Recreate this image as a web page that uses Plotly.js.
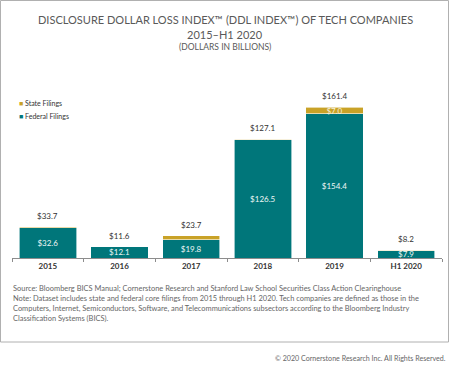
<!DOCTYPE html>
<html><head><meta charset="utf-8">
<script src="https://cdn.plot.ly/plotly-3.0.1.min.js"></script>
<style>html,body{margin:0;padding:0;background:#fff}#c{width:450px;height:374px}</style>
</head><body><div id="c"></div>
<script>
const categories = ['2015','2016','2017','2018','2019','H1 2020'];
const federalValues = [32.6, 12.1, 19.8, 126.5, 154.4, 7.9];
const stateValues = [1.1, 0, 3.9, 0.6, 7.0, 0.3];
const totalValues = [33.7, 11.6, 23.7, 127.1, 161.4, 8.2];
const seriesNames = ['State Filings', 'Federal Filings'];

const W = 450, H = 374;
const M = {l: 12, r: 8, t: 90, b: 116};
const PW = W - M.l - M.r, PH = H - M.t - M.b;
const px = x => (x - M.l) / PW;
const py = y => (H - M.b - y) / PH;

const TEAL = '#00767A', GOLD = '#C9A227';
const FONT = 'Lato, "Open Sans", sans-serif';
const fmt = v => '$' + v.toFixed(1);

const traces = [
  {type: 'bar', x: categories, y: federalValues, name: seriesNames[1], showlegend: false,
   marker: {color: TEAL, line: {color: '#ffffff', width: 0.6}},
   text: federalValues.map(fmt), textposition: 'inside', insidetextanchor: 'middle',
   constraintext: 'none', textfont: {family: FONT, size: 8, color: '#eef6f6'}, hoverinfo: 'skip'},
  {type: 'bar', x: categories, y: stateValues, name: seriesNames[0], showlegend: false,
   marker: {color: GOLD, line: {color: '#ffffff', width: 0.6}},
   text: stateValues.map(v => v >= 5 ? fmt(v) : ''), textposition: 'inside', insidetextanchor: 'middle',
   constraintext: 'none', textfont: {family: FONT, size: 8, color: '#f6f0dc'}, hoverinfo: 'skip'}
];

// category axis: annotation x given as the category index
const annotations = categories.map((c, i) => ({
  x: i, y: totalValues[i], xref: 'x', yref: 'y', text: fmt(totalValues[i]),
  showarrow: false, yanchor: 'bottom', yshift: 4,
  font: {family: FONT, size: 8, color: '#333333'}
}));

const grayText = '#595959';
annotations.push(
  {xref: 'paper', yref: 'paper', x: px(225), y: py(20), text: 'DISCLOSURE DOLLAR LOSS INDEX™ (DDL INDEX™) OF TECH COMPANIES',
   showarrow: false, xanchor: 'center', yanchor: 'middle', font: {family: FONT, size: 11, color: grayText}},
  {xref: 'paper', yref: 'paper', x: px(225), y: py(34), text: '2015–H1 2020',
   showarrow: false, xanchor: 'center', yanchor: 'middle', font: {family: FONT, size: 11, color: grayText}},
  {xref: 'paper', yref: 'paper', x: px(225), y: py(46.5), text: '(DOLLARS IN BILLIONS)',
   showarrow: false, xanchor: 'center', yanchor: 'middle', font: {family: FONT, size: 8.5, color: grayText}}
);

// legend drawn as text entries
[[seriesNames[0], GOLD, 103], [seriesNames[1], TEAL, 115.7]].forEach(([name, col, yy]) => annotations.push({
  xref: 'paper', yref: 'paper', x: px(17), y: py(yy), showarrow: false, xanchor: 'left', yanchor: 'middle',
  text: '<span style="color:' + col + '">■</span> ' + name,
  font: {family: FONT, size: 7, color: '#333333'}
}));

const notes = [
  'Source: Bloomberg BICS Manual; Cornerstone Research and Stanford Law School Securities Class Action Clearinghouse',
  'Note: Dataset includes state and federal core filings from 2015 through H1 2020. Tech companies are defined as those in the',
  'Computers, Internet, Semiconductors, Software, and Telecommunications subsectors according to the Bloomberg Industry',
  'Classification Systems (BICS).'
];
notes.forEach((t, i) => annotations.push({
  xref: 'paper', yref: 'paper', x: px(11), y: py(288 + i * 10.3), text: t, showarrow: false,
  xanchor: 'left', yanchor: 'middle', font: {family: FONT, size: 7.45, color: '#666666'}
}));
annotations.push({xref: 'paper', yref: 'paper', x: px(448), y: py(358),
  text: '© 2020 Cornerstone Research Inc. All Rights Reserved.', showarrow: false,
  xanchor: 'right', yanchor: 'middle', font: {family: FONT, size: 7.1, color: '#666666'}});

const layout = {
  width: W, height: H, margin: M, paper_bgcolor: '#fff', plot_bgcolor: '#fff',
  barmode: 'stack', bargap: 0.2, showlegend: false,
  xaxis: {type: 'category', categoryorder: 'array', categoryarray: categories, range: [-0.5, categories.length - 0.5],
          showline: true, linecolor: '#8c8c8c', linewidth: 1, ticks: 'outside', tickson: 'boundaries',
          ticklen: 3, tickcolor: '#8c8c8c', showgrid: false, fixedrange: true,
          tickfont: {family: FONT, size: 8, color: '#333333', weight: 'bold'}},
  yaxis: {range: [0, 180], visible: false, fixedrange: true},
  annotations: annotations,
  shapes: [{type: 'rect', xref: 'paper', yref: 'paper', x0: px(0.5), x1: px(448.5), y0: py(0.5), y1: py(342),
            line: {color: '#b0b0b0', width: 1}, layer: 'below'}]
};

Plotly.newPlot('c', traces, layout, {displayModeBar: false, staticPlot: true});
</script></body></html>
